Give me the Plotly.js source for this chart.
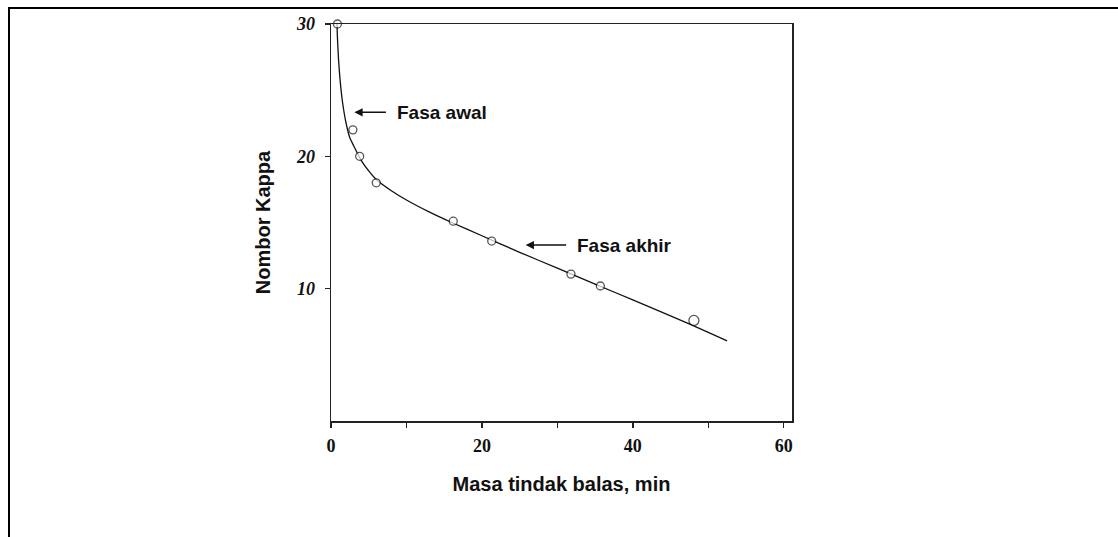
<!DOCTYPE html>
<html>
<head>
<meta charset="utf-8">
<script src="https://cdn.plot.ly/plotly-3.0.1.min.js"></script>
<style>
  html, body { margin: 0; padding: 0; background: #fff; }
  #wrap { position: relative; width: 1118px; height: 537px; overflow: hidden; }
  #chart { position: absolute; left: 0; top: 0; width: 1118px; height: 537px; }
  #frameTop { position: absolute; left: 8px; top: 7px; width: 1110px; height: 2px; background: #000; }
  #frameLeft { position: absolute; left: 8px; top: 7px; width: 2px; height: 530px; background: #000; }
</style>
</head>
<body>
<div id="wrap">
  <div id="chart"></div>
  <div id="frameTop"></div>
  <div id="frameLeft"></div>
</div>
<script>
// Measured points (open circles)
const timeMin = [0.85, 2.9, 3.8, 6.0, 16.2, 21.3, 31.8, 35.7, 48.1];
const kappa   = [30.0, 22.0, 20.0, 18.0, 15.1, 13.6, 11.1, 10.2, 7.6];

// Fitted curve
const curveX = [0.8, 0.85, 1.0, 1.2, 1.5, 2.0, 2.5, 3.0, 4.0, 5.0, 6.0, 8.0, 10, 13, 16, 20, 25, 30, 35, 40, 45, 50, 52.5];
const curveY = [30, 29.0, 27.3, 25.8, 24.2, 22.5, 21.4, 20.8, 19.7, 18.9, 18.25, 17.4, 16.7, 15.8, 15.0, 14.0, 12.75, 11.55, 10.35, 9.15, 7.95, 6.7, 6.05];

// Axis ticks
const xTickVals = [0, 10, 20, 30, 40, 50, 60];
const xTickText = ["0", "", "20", "", "40", "", "60"];
const yTickVals = [10, 20, 30];
const yTickText = ["10", "20", "30"];

// Phase labels
const phaseLabels = ["Fasa awal", "Fasa akhir"];
const phaseArrowHeadX = [3.1, 25.8];
const phaseArrowHeadY = [23.33, 13.3];
const phaseTextX = [8.5, 32.4];

const ink = "#111";

const traces = [
  {
    x: curveX, y: curveY, type: "scatter", mode: "lines",
    line: { color: ink, width: 1.3, shape: "spline", smoothing: 0.5 },
    hoverinfo: "skip", showlegend: false
  },
  {
    x: timeMin, y: kappa, type: "scatter", mode: "markers",
    marker: { symbol: "circle", size: [8, 8, 8, 8, 8, 8, 8, 8, 10], color: "#fff", line: { color: ink, width: 1.3 } },
    cliponaxis: false, showlegend: false
  }
];

const annotations = [];
for (let i = 0; i < phaseLabels.length; i++) {
  annotations.push({
    x: phaseArrowHeadX[i], y: phaseArrowHeadY[i], xref: "x", yref: "y",
    text: "", showarrow: true, arrowhead: 2, arrowsize: 1.1, arrowwidth: 1.5,
    arrowcolor: ink, ax: i === 0 ? 33 : 42, ay: 0
  });
  annotations.push({
    x: phaseTextX[i], y: phaseArrowHeadY[i], xref: "x", yref: "y",
    text: phaseLabels[i], showarrow: false, xanchor: "left", yanchor: "middle",
    font: { family: "Liberation Sans, Arial, sans-serif", size: 19, weight: "bold", color: ink }
  });
}

const layout = {
  width: 1118, height: 537,
  margin: { l: 331, r: 326, t: 24, b: 116, pad: 0 },
  paper_bgcolor: "#fff", plot_bgcolor: "#fff",
  showlegend: false,
  xaxis: {
    range: [0, 61.1], showgrid: false, zeroline: false,
    showline: true, linecolor: "#222", linewidth: 1.5, mirror: true,
    ticks: "outside", ticklen: 5, tickwidth: 1.5, tickcolor: "#222",
    tickvals: xTickVals, ticktext: xTickText, ticklabelstandoff: 3,
    tickfont: { family: "Liberation Serif, Times New Roman, serif", size: 18, weight: "bold", color: ink },
    title: { text: "Masa tindak balas, min", standoff: 22,
             font: { family: "Liberation Sans, Arial, sans-serif", size: 20, weight: "bold", color: ink } },
    automargin: false
  },
  yaxis: {
    range: [0, 30], showgrid: false, zeroline: false,
    showline: true, linecolor: "#222", linewidth: 1.5, mirror: true,
    ticks: "outside", ticklen: 5, tickwidth: 1.5, tickcolor: "#222",
    tickvals: yTickVals, ticktext: yTickText, ticklabelstandoff: 6,
    tickfont: { family: "Liberation Serif, Times New Roman, serif", size: 18, weight: "bold", style: "italic", color: ink },
    title: { text: "Nombor Kappa", standoff: 20,
             font: { family: "Liberation Sans, Arial, sans-serif", size: 20, weight: "bold", color: ink } },
    automargin: false
  },
  annotations: annotations
};

Plotly.newPlot("chart", traces, layout, { displayModeBar: false, staticPlot: true });
</script>
</body>
</html>
